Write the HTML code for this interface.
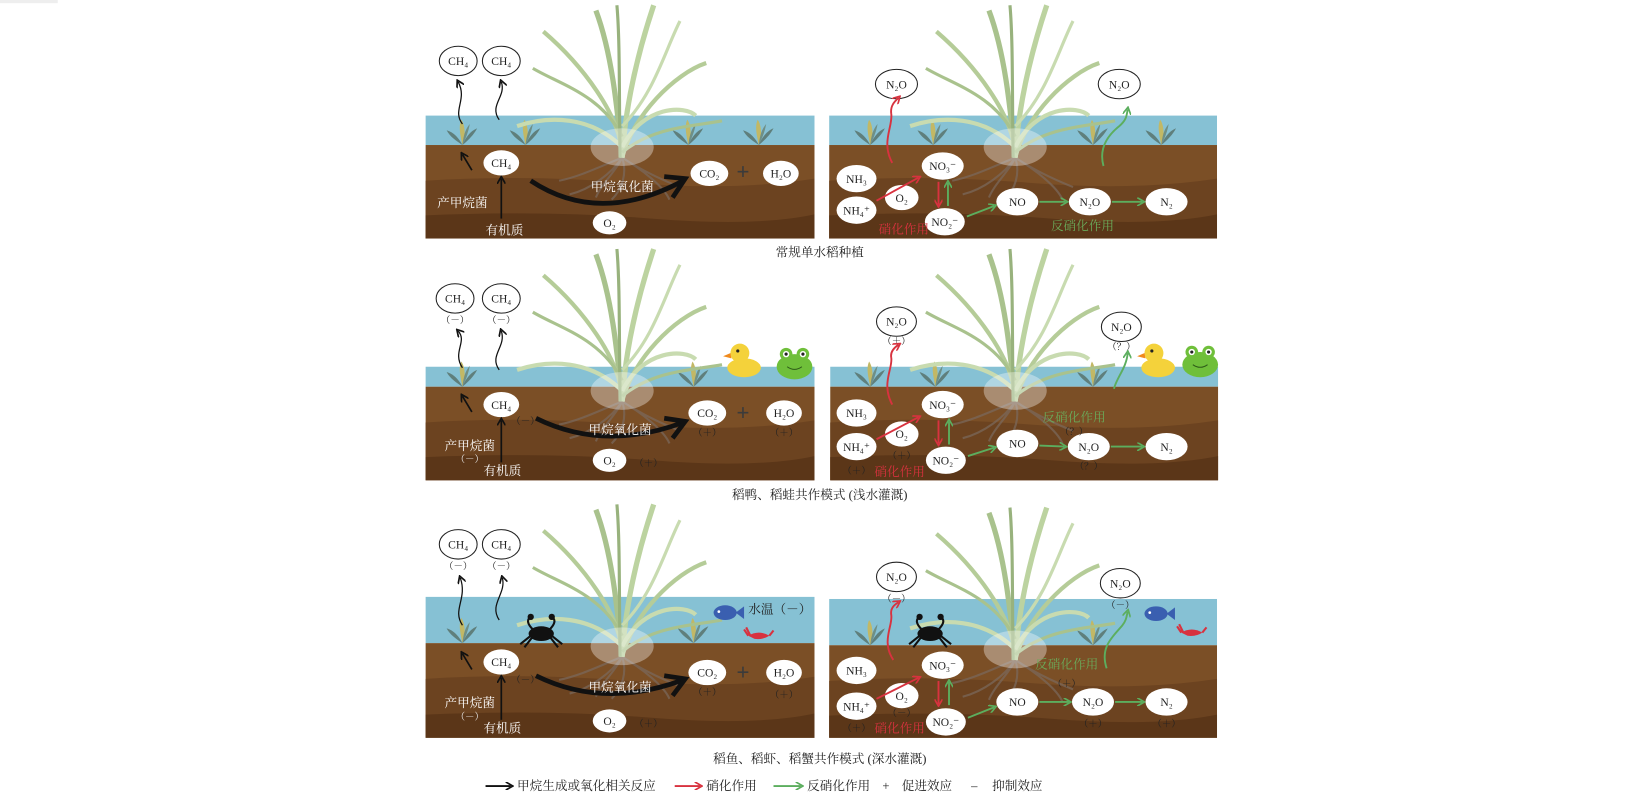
<!DOCTYPE html>
<html><head><meta charset="utf-8"><style>
html,body{margin:0;padding:0;background:#fff;}
svg{display:block;}
text{font-family:"Liberation Serif","Noto Serif CJK SC","Noto Sans CJK SC",serif;}
.e{fill:#fff;}
.eo{fill:#fff;stroke:#222;stroke-width:1;}
.t{font-size:11px;fill:#222;text-anchor:middle;}
.w{font-size:12px;fill:#fff;text-anchor:middle;}
.s{font-size:9px;fill:#222;text-anchor:middle;}
.sw{font-size:9px;fill:#eee;text-anchor:middle;}
.cap{font-size:12px;fill:#222;text-anchor:middle;}
</style></head><body>
<svg width="1650" height="806" viewBox="0 0 1570 767" preserveAspectRatio="none" xmlns="http://www.w3.org/2000/svg">
<defs>
<marker id="mk" markerWidth="8" markerHeight="8" refX="5" refY="4" orient="auto" markerUnits="userSpaceOnUse"><path d="M0,0 L7,4 L0,8" fill="none" stroke="#111" stroke-width="1.6"/></marker>
<marker id="mr" markerWidth="8" markerHeight="8" refX="5" refY="4" orient="auto" markerUnits="userSpaceOnUse"><path d="M0,0 L7,4 L0,8" fill="none" stroke="#d8323f" stroke-width="1.6"/></marker>
<marker id="mg" markerWidth="8" markerHeight="8" refX="5" refY="4" orient="auto" markerUnits="userSpaceOnUse"><path d="M0,0 L7,4 L0,8" fill="none" stroke="#5cae5e" stroke-width="1.6"/></marker>
<g id="weed">
<path d="M0,0 C-2,-10 -4,-18 -1,-24 C3,-18 3,-8 0,0Z" fill="#c2b865"/>
<path d="M0,0 C-6,-4 -12,-8 -15,-14 C-8,-12 -3,-6 0,0Z" fill="#5f7f7c"/>
<path d="M0,0 C6,-5 11,-10 14,-16 C7,-13 3,-7 0,0Z" fill="#5f7f7c"/>
<path d="M0,0 C4,-8 6,-14 7,-20 C2,-14 1,-8 0,0Z" fill="#6f8f86"/>
</g>
<g id="plant">
<path d="M0,0 C-20,8 -40,18 -60,22 M0,0 C-10,15 -30,30 -50,35 M0,0 C5,15 0,30 -10,40 M0,0 C15,10 35,20 55,28 M0,0 C20,12 40,28 45,40 M0,0 C-5,12 -20,25 -25,38" stroke="#7a6a5e" stroke-width="2" fill="none" opacity="0.7"/>
<path d="M0,0 C-5,-50 -10,-100 -25,-140" stroke="#a9c28d" stroke-width="5" fill="none"/>
<path d="M0,0 C3,-50 15,-100 30,-145" stroke="#bcd3a0" stroke-width="5" fill="none"/>
<path d="M0,0 C0,-40 -40,-90 -75,-120" stroke="#b5cc98" stroke-width="4" fill="none"/>
<path d="M0,0 C10,-40 50,-80 80,-90" stroke="#b5cc98" stroke-width="4" fill="none"/>
<path d="M0,-10 C20,-50 60,-50 70,-40" stroke="#c8dbb0" stroke-width="4" fill="none"/>
<path d="M0,-10 C-30,-40 -70,-40 -100,-30" stroke="#c8dbb0" stroke-width="4" fill="none"/>
<path d="M0,-20 C-20,-60 -60,-70 -85,-85" stroke="#a9c28d" stroke-width="3" fill="none"/>
<path d="M0,-5 C30,-30 70,-30 95,-35" stroke="#a9c28d" stroke-width="3" fill="none"/>
<path d="M-2,0 C-3,-60 -2,-110 -5,-145" stroke="#98b27d" stroke-width="3" fill="none"/>
<path d="M0,-30 C30,-60 40,-100 55,-130" stroke="#c8dbb0" stroke-width="3" fill="none"/>
<ellipse cx="0" cy="-10" rx="30" ry="18" fill="#fff" opacity="0.35"/>
</g>
<g id="duck">
<ellipse cx="0" cy="6" rx="16" ry="9" fill="#f4d23b"/>
<circle cx="-4" cy="-8" r="9" fill="#f4d23b"/>
<path d="M-13,-8 L-20,-5 L-12,-3Z" fill="#f08a1c"/>
<circle cx="-6" cy="-10" r="1.5" fill="#222"/>
</g>
<g id="frog">
<ellipse cx="0" cy="4" rx="17" ry="12" fill="#6fbf3a"/>
<circle cx="-8" cy="-8" r="6" fill="#6fbf3a"/><circle cx="8" cy="-8" r="6" fill="#6fbf3a"/>
<circle cx="-8" cy="-8" r="3" fill="#fff"/><circle cx="8" cy="-8" r="3" fill="#fff"/>
<circle cx="-8" cy="-8" r="1.5" fill="#222"/><circle cx="8" cy="-8" r="1.5" fill="#222"/>
<path d="M-7,4 Q0,9 7,4" stroke="#2d5a18" fill="none"/>
</g>
<g id="crab">
<ellipse cx="0" cy="0" rx="12" ry="7" fill="#111"/>
<path d="M-10,2 L-20,10 M-9,4 L-16,13 M10,2 L20,10 M9,4 L16,13 M-8,-4 Q-16,-12 -10,-16 M8,-4 Q16,-12 10,-16" stroke="#111" stroke-width="2" fill="none"/>
<circle cx="-10" cy="-16" r="3" fill="#111"/><circle cx="10" cy="-16" r="3" fill="#111"/>
</g>
<g id="fish">
<ellipse cx="0" cy="0" rx="11" ry="7" fill="#3a5fb0"/>
<path d="M10,0 L18,-6 L18,6Z" fill="#3a5fb0"/>
<circle cx="-6" cy="-1" r="1.3" fill="#fff"/>
</g>
<g id="cray">
<path d="M-10,2 Q0,-4 10,2 Q4,6 -4,5Z" fill="#d8323f"/>
<path d="M-10,2 L-14,-4 M-8,2 L-12,-6 M10,2 L14,-3" stroke="#d8323f" stroke-width="2"/>
</g>
</defs>

<rect x="0" y="0" width="55" height="3" fill="#eee"/>

<!-- ================= ROW 1 ================= -->
<!-- left panel -->
<rect x="405" y="110" width="370" height="28" fill="#86c1d4"/>
<rect x="405" y="138" width="370" height="89" fill="#7b4f26"/>
<path d="M405,172 Q500,166 600,174 T775,170 L775,227 L405,227Z" fill="#6c4320"/>
<path d="M405,205 Q520,200 620,208 T775,204 L775,227 L405,227Z" fill="#5b3618"/>
<use href="#weed" x="440" y="138"/><use href="#weed" x="500" y="138"/><use href="#weed" x="655" y="138"/><use href="#weed" x="722" y="138"/>
<use href="#plant" x="592" y="150"/>
<ellipse class="eo" cx="436" cy="58" rx="18" ry="14"/><text class="t" x="436" y="62">CH₄</text>
<ellipse class="eo" cx="477" cy="58" rx="18" ry="14"/><text class="t" x="477" y="62">CH₄</text>
<path d="M440,118 C430,105 445,95 436,78" stroke="#111" stroke-width="1.2" fill="none" marker-end="url(#mk)"/>
<path d="M475,114 C465,100 482,92 477,78" stroke="#111" stroke-width="1.2" fill="none" marker-end="url(#mk)"/>
<ellipse class="e" cx="477" cy="155" rx="17" ry="12"/><text class="t" x="477" y="159">CH₄</text>
<path d="M477,208 L477,170" stroke="#111" stroke-width="1.6" marker-end="url(#mk)"/>
<path d="M449,162 L440,147" stroke="#111" stroke-width="1.6" marker-end="url(#mk)"/>
<text class="w" x="440" y="197">产甲烷菌</text>
<text class="w" x="480" y="223">有机质</text>
<path d="M505,172 Q570,215 650,172" stroke="#111" stroke-width="4.5" fill="none"/>
<path d="M632,168 L652,170 L640,188" stroke="#111" stroke-width="4.5" fill="none"/>
<text class="w" x="592" y="182">甲烷氧化菌</text>
<ellipse class="e" cx="580" cy="212" rx="16" ry="11"/><text class="t" x="580" y="216">O₂</text>
<ellipse class="e" cx="675" cy="165" rx="18" ry="12"/><text class="t" x="675" y="169">CO₂</text>
<text x="707" y="171" font-size="22" fill="#3b3b3b" text-anchor="middle" font-weight="bold">+</text>
<ellipse class="e" cx="743" cy="165" rx="17" ry="12"/><text class="t" x="743" y="169">H₂O</text>

<!-- right panel -->
<rect x="789" y="110" width="369" height="28" fill="#86c1d4"/>
<rect x="789" y="138" width="369" height="89" fill="#7b4f26"/>
<path d="M789,172 Q880,166 980,174 T1158,170 L1158,227 L789,227Z" fill="#6c4320"/>
<path d="M789,205 Q900,200 1000,208 T1158,204 L1158,227 L789,227Z" fill="#5b3618"/>
<use href="#weed" x="828" y="138"/><use href="#weed" x="888" y="138"/><use href="#weed" x="1040" y="138"/><use href="#weed" x="1105" y="138"/>
<use href="#plant" x="966" y="150"/>
<ellipse class="eo" cx="853" cy="80" rx="20" ry="14"/><text class="t" x="853" y="84">N₂O</text>
<ellipse class="eo" cx="1065" cy="80" rx="20" ry="14"/><text class="t" x="1065" y="84">N₂O</text>
<path d="M849,155 C838,135 850,120 848,108 C847,100 852,96 855,93" stroke="#d8323f" stroke-width="1.8" fill="none" marker-end="url(#mr)"/>
<path d="M1050,158 C1045,140 1055,128 1065,120 C1072,114 1072,110 1073,104" stroke="#5cae5e" stroke-width="1.8" fill="none" marker-end="url(#mg)"/>
<ellipse class="e" cx="815" cy="170" rx="19" ry="13"/><text class="t" x="815" y="174">NH₃</text>
<ellipse class="e" cx="815" cy="200" rx="19" ry="13"/><text class="t" x="815" y="204">NH₄⁺</text>
<ellipse class="e" cx="858" cy="188" rx="16" ry="12"/><text class="t" x="858" y="192">O₂</text>
<ellipse class="e" cx="897" cy="158" rx="20" ry="13"/><text class="t" x="897" y="162">NO₃⁻</text>
<ellipse class="e" cx="899" cy="211" rx="19" ry="13"/><text class="t" x="899" y="215">NO₂⁻</text>
<ellipse class="e" cx="968" cy="192" rx="20" ry="13"/><text class="t" x="968" y="196">NO</text>
<ellipse class="e" cx="1037" cy="192" rx="20" ry="13"/><text class="t" x="1037" y="196">N₂O</text>
<ellipse class="e" cx="1110" cy="192" rx="20" ry="13"/><text class="t" x="1110" y="196">N₂</text>
<path d="M834,191 L874,169" stroke="#d8323f" stroke-width="1.8" marker-end="url(#mr)"/>
<path d="M893,173 L893,195" stroke="#d8323f" stroke-width="1.8" marker-end="url(#mr)"/>
<path d="M902,196 L902,174" stroke="#5cae5e" stroke-width="1.8" marker-end="url(#mg)"/>
<path d="M920,206 L946,196" stroke="#5cae5e" stroke-width="1.8" marker-end="url(#mg)"/>
<path d="M989,192 L1014,192" stroke="#5cae5e" stroke-width="1.8" marker-end="url(#mg)"/>
<path d="M1058,192 L1087,192" stroke="#5cae5e" stroke-width="1.8" marker-end="url(#mg)"/>
<text x="860" y="222" font-size="12" fill="#d8323f" text-anchor="middle">硝化作用</text>
<text x="1030" y="219" font-size="12" fill="#6aab5a" text-anchor="middle">反硝化作用</text>
<text class="cap" x="780" y="244">常规单水稻种植</text>

<!-- ================= ROW 2 ================= -->
<rect x="405" y="349" width="370" height="19" fill="#86c1d4"/>
<rect x="405" y="368" width="370" height="89" fill="#7b4f26"/>
<path d="M405,402 Q500,396 600,404 T775,400 L775,457 L405,457Z" fill="#6c4320"/>
<path d="M405,435 Q520,430 620,438 T775,434 L775,457 L405,457Z" fill="#5b3618"/>
<use href="#weed" x="440" y="368"/><use href="#weed" x="660" y="368"/>
<use href="#plant" x="592" y="382"/>
<use href="#duck" x="708" y="344"/><use href="#frog" x="756" y="345"/>
<ellipse class="eo" cx="433" cy="284" rx="18" ry="14"/><text class="t" x="433" y="288">CH₄</text>
<ellipse class="eo" cx="477" cy="284" rx="18" ry="14"/><text class="t" x="477" y="288">CH₄</text>
<text class="s" x="433" y="308">（－）</text><text class="s" x="477" y="308">（－）</text>
<path d="M440,350 C430,335 445,325 436,315" stroke="#111" stroke-width="1.2" fill="none" marker-end="url(#mk)"/>
<path d="M475,352 C465,338 482,330 477,315" stroke="#111" stroke-width="1.2" fill="none" marker-end="url(#mk)"/>
<ellipse class="e" cx="477" cy="385" rx="17" ry="12"/><text class="t" x="477" y="389">CH₄</text>
<text class="s" x="500" y="404">（－）</text>
<path d="M477,440 L477,400" stroke="#111" stroke-width="1.6" marker-end="url(#mk)"/>
<path d="M449,392 L440,377" stroke="#111" stroke-width="1.6" marker-end="url(#mk)"/>
<text class="w" x="447" y="428">产甲烷菌</text><text class="sw" x="447" y="440">（－）</text>
<text class="w" x="478" y="452">有机质</text>
<path d="M510,398 Q575,430 650,402" stroke="#111" stroke-width="4.5" fill="none"/>
<path d="M632,398 L652,401 L640,417" stroke="#111" stroke-width="4.5" fill="none"/>
<text class="w" x="590" y="413">甲烷氧化菌</text>
<ellipse class="e" cx="580" cy="438" rx="16" ry="11"/><text class="t" x="580" y="442">O₂</text>
<text class="s" x="617" y="444">（＋）</text>
<ellipse class="e" cx="673" cy="393" rx="18" ry="12"/><text class="t" x="673" y="397">CO₂</text>
<text class="s" x="673" y="415">（＋）</text>
<text x="707" y="400" font-size="22" fill="#3b3b3b" text-anchor="middle" font-weight="bold">+</text>
<ellipse class="e" cx="746" cy="393" rx="17" ry="12"/><text class="t" x="746" y="397">H₂O</text>
<text class="s" x="746" y="415">（＋）</text>

<rect x="790" y="349" width="369" height="19" fill="#86c1d4"/>
<rect x="790" y="368" width="369" height="89" fill="#7b4f26"/>
<path d="M790,402 Q880,396 980,404 T1159,400 L1159,457 L790,457Z" fill="#6c4320"/>
<path d="M790,435 Q900,430 1000,438 T1159,434 L1159,457 L790,457Z" fill="#5b3618"/>
<use href="#weed" x="828" y="368"/><use href="#weed" x="890" y="368"/><use href="#weed" x="1040" y="368"/>
<use href="#plant" x="966" y="382"/>
<use href="#duck" x="1102" y="344"/><use href="#frog" x="1142" y="343"/>
<ellipse class="eo" cx="853" cy="306" rx="19" ry="14"/><text class="t" x="853" y="310">N₂O</text>
<text class="s" x="853" y="328">（＋）</text>
<ellipse class="eo" cx="1067" cy="311" rx="19" ry="14"/><text class="t" x="1067" y="315">N₂O</text>
<text class="s" x="1067" y="333">（？）</text>
<path d="M849,385 C838,365 850,350 848,340 C847,334 852,330 855,328" stroke="#d8323f" stroke-width="1.8" fill="none" marker-end="url(#mr)"/>
<path d="M1060,370 C1062,360 1072,350 1073,336" stroke="#5cae5e" stroke-width="1.8" fill="none" marker-end="url(#mg)"/>
<ellipse class="e" cx="815" cy="393" rx="19" ry="13"/><text class="t" x="815" y="397">NH₃</text>
<ellipse class="e" cx="815" cy="425" rx="19" ry="13"/><text class="t" x="815" y="429">NH₄⁺</text>
<text class="s" x="815" y="451">（＋）</text>
<ellipse class="e" cx="858" cy="413" rx="16" ry="12"/><text class="t" x="858" y="417">O₂</text>
<text class="s" x="858" y="437">（＋）</text>
<ellipse class="e" cx="897" cy="385" rx="20" ry="13"/><text class="t" x="897" y="389">NO₃⁻</text>
<ellipse class="e" cx="900" cy="438" rx="19" ry="13"/><text class="t" x="900" y="442">NO₂⁻</text>
<ellipse class="e" cx="968" cy="422" rx="20" ry="13"/><text class="t" x="968" y="426">NO</text>
<ellipse class="e" cx="1036" cy="425" rx="20" ry="13"/><text class="t" x="1036" y="429">N₂O</text>
<text class="s" x="1036" y="447">（？）</text>
<ellipse class="e" cx="1110" cy="425" rx="20" ry="13"/><text class="t" x="1110" y="429">N₂</text>
<path d="M834,418 L874,397" stroke="#d8323f" stroke-width="1.8" marker-end="url(#mr)"/>
<path d="M893,400 L893,422" stroke="#d8323f" stroke-width="1.8" marker-end="url(#mr)"/>
<path d="M903,423 L903,401" stroke="#5cae5e" stroke-width="1.8" marker-end="url(#mg)"/>
<path d="M921,434 L946,426" stroke="#5cae5e" stroke-width="1.8" marker-end="url(#mg)"/>
<path d="M989,424 L1013,425" stroke="#5cae5e" stroke-width="1.8" marker-end="url(#mg)"/>
<path d="M1057,425 L1087,425" stroke="#5cae5e" stroke-width="1.8" marker-end="url(#mg)"/>
<text x="856" y="453" font-size="12" fill="#d8323f" text-anchor="middle">硝化作用</text>
<text x="1022" y="401" font-size="12" fill="#6aab5a" text-anchor="middle">反硝化作用</text>
<text class="s" x="1022" y="414">（？）</text>
<text class="cap" x="780" y="475">稻鸭、稻蛙共作模式 (浅水灌溉)</text>

<!-- ================= ROW 3 ================= -->
<rect x="405" y="568" width="370" height="44" fill="#86c1d4"/>
<rect x="405" y="612" width="370" height="90" fill="#7b4f26"/>
<path d="M405,646 Q500,640 600,648 T775,644 L775,702 L405,702Z" fill="#6c4320"/>
<path d="M405,680 Q520,675 620,683 T775,679 L775,702 L405,702Z" fill="#5b3618"/>
<use href="#weed" x="440" y="612"/><use href="#weed" x="660" y="612"/>
<use href="#plant" x="592" y="625"/>
<use href="#crab" x="515" y="603"/><use href="#fish" x="690" y="583"/><use href="#cray" x="722" y="603"/>
<text x="742" y="584" font-size="12" fill="#222" text-anchor="middle">水温（－）</text>
<ellipse class="eo" cx="436" cy="518" rx="18" ry="14"/><text class="t" x="436" y="522">CH₄</text>
<ellipse class="eo" cx="477" cy="518" rx="18" ry="14"/><text class="t" x="477" y="522">CH₄</text>
<text class="s" x="436" y="542">（－）</text><text class="s" x="477" y="542">（－）</text>
<path d="M440,595 C430,580 445,570 438,550" stroke="#111" stroke-width="1.2" fill="none" marker-end="url(#mk)"/>
<path d="M475,590 C465,575 482,565 478,550" stroke="#111" stroke-width="1.2" fill="none" marker-end="url(#mk)"/>
<ellipse class="e" cx="477" cy="630" rx="17" ry="12"/><text class="t" x="477" y="634">CH₄</text>
<text class="s" x="500" y="650">（－）</text>
<path d="M477,685 L477,645" stroke="#111" stroke-width="1.6" marker-end="url(#mk)"/>
<path d="M449,637 L440,622" stroke="#111" stroke-width="1.6" marker-end="url(#mk)"/>
<text class="w" x="447" y="673">产甲烷菌</text><text class="sw" x="447" y="685">（－）</text>
<text class="w" x="478" y="697">有机质</text>
<path d="M510,643 Q575,675 650,647" stroke="#111" stroke-width="4.5" fill="none"/>
<path d="M632,643 L652,646 L640,662" stroke="#111" stroke-width="4.5" fill="none"/>
<text class="w" x="590" y="658">甲烷氧化菌</text>
<ellipse class="e" cx="580" cy="686" rx="16" ry="11"/><text class="t" x="580" y="690">O₂</text>
<text class="s" x="617" y="692">（＋）</text>
<ellipse class="e" cx="673" cy="640" rx="18" ry="12"/><text class="t" x="673" y="644">CO₂</text>
<text class="s" x="673" y="662">（＋）</text>
<text x="707" y="647" font-size="22" fill="#3b3b3b" text-anchor="middle" font-weight="bold">+</text>
<ellipse class="e" cx="746" cy="640" rx="17" ry="12"/><text class="t" x="746" y="644">H₂O</text>
<text class="s" x="746" y="664">（＋）</text>

<rect x="789" y="570" width="369" height="44" fill="#86c1d4"/>
<rect x="789" y="614" width="369" height="88" fill="#7b4f26"/>
<path d="M789,648 Q880,642 980,650 T1158,646 L1158,702 L789,702Z" fill="#6c4320"/>
<path d="M789,681 Q900,676 1000,684 T1158,680 L1158,702 L789,702Z" fill="#5b3618"/>
<use href="#weed" x="828" y="614"/><use href="#weed" x="1040" y="614"/>
<use href="#plant" x="966" y="628"/>
<use href="#crab" x="885" y="603"/><use href="#fish" x="1100" y="584"/><use href="#cray" x="1134" y="600"/>
<ellipse class="eo" cx="853" cy="549" rx="19" ry="14"/><text class="t" x="853" y="553">N₂O</text>
<text class="s" x="853" y="573">（－）</text>
<ellipse class="eo" cx="1066" cy="555" rx="19" ry="14"/><text class="t" x="1066" y="559">N₂O</text>
<text class="s" x="1066" y="579">（－）</text>
<path d="M850,628 C838,610 850,595 848,585 C847,578 852,575 855,573" stroke="#d8323f" stroke-width="1.8" fill="none" marker-end="url(#mr)"/>
<path d="M1053,636 C1046,615 1060,605 1068,595 C1072,590 1072,586 1073,582" stroke="#5cae5e" stroke-width="1.8" fill="none" marker-end="url(#mg)"/>
<ellipse class="e" cx="815" cy="638" rx="19" ry="13"/><text class="t" x="815" y="642">NH₃</text>
<ellipse class="e" cx="815" cy="672" rx="19" ry="13"/><text class="t" x="815" y="676">NH₄⁺</text>
<text class="s" x="815" y="696">（＋）</text>
<ellipse class="e" cx="858" cy="662" rx="16" ry="12"/><text class="t" x="858" y="666">O₂</text>
<text class="s" x="858" y="682">（－）</text>
<ellipse class="e" cx="897" cy="633" rx="20" ry="13"/><text class="t" x="897" y="637">NO₃⁻</text>
<ellipse class="e" cx="900" cy="687" rx="19" ry="13"/><text class="t" x="900" y="691">NO₂⁻</text>
<ellipse class="e" cx="968" cy="668" rx="20" ry="13"/><text class="t" x="968" y="672">NO</text>
<ellipse class="e" cx="1040" cy="668" rx="20" ry="13"/><text class="t" x="1040" y="672">N₂O</text>
<text class="s" x="1040" y="692">（＋）</text>
<ellipse class="e" cx="1110" cy="668" rx="20" ry="13"/><text class="t" x="1110" y="672">N₂</text>
<text class="s" x="1110" y="692">（＋）</text>
<path d="M834,665 L874,645" stroke="#d8323f" stroke-width="1.8" marker-end="url(#mr)"/>
<path d="M893,648 L893,670" stroke="#d8323f" stroke-width="1.8" marker-end="url(#mr)"/>
<path d="M903,671 L903,649" stroke="#5cae5e" stroke-width="1.8" marker-end="url(#mg)"/>
<path d="M921,683 L946,673" stroke="#5cae5e" stroke-width="1.8" marker-end="url(#mg)"/>
<path d="M989,668 L1017,668" stroke="#5cae5e" stroke-width="1.8" marker-end="url(#mg)"/>
<path d="M1061,668 L1087,668" stroke="#5cae5e" stroke-width="1.8" marker-end="url(#mg)"/>
<text x="856" y="697" font-size="12" fill="#d8323f" text-anchor="middle">硝化作用</text>
<text x="1015" y="636" font-size="12" fill="#6aab5a" text-anchor="middle">反硝化作用</text>
<text class="s" x="1015" y="654">（＋）</text>
<text class="cap" x="780" y="726">稻鱼、稻虾、稻蟹共作模式 (深水灌溉)</text>

<!-- legend -->
<path d="M462,748 L486,748" stroke="#111" stroke-width="1.8" marker-end="url(#mk)"/>
<text x="492" y="752" font-size="12" fill="#222">甲烷生成或氧化相关反应</text>
<path d="M642,748 L666,748" stroke="#d8323f" stroke-width="1.8" marker-end="url(#mr)"/>
<text x="672" y="752" font-size="12" fill="#222">硝化作用</text>
<path d="M736,748 L762,748" stroke="#5cae5e" stroke-width="1.8" marker-end="url(#mg)"/>
<text x="768" y="752" font-size="12" fill="#222">反硝化作用</text>
<text x="843" y="752" font-size="12" fill="#222" text-anchor="middle">+</text>
<text x="858" y="752" font-size="12" fill="#222">促进效应</text>
<text x="927" y="752" font-size="12" fill="#222" text-anchor="middle">–</text>
<text x="944" y="752" font-size="12" fill="#222">抑制效应</text>
</svg>
</body></html>
